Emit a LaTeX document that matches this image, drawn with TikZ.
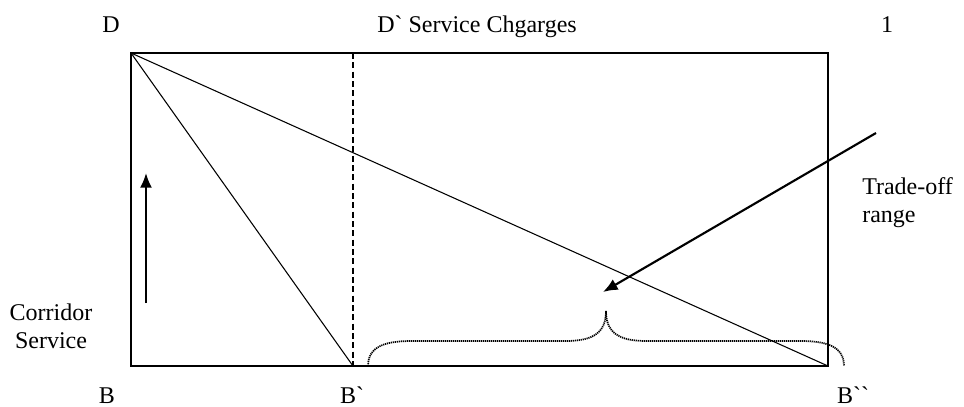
\documentclass[tikz,border=0pt]{standalone}
\usepackage{fontspec}
\setmainfont{Liberation Serif}[Ligatures=TeXOff]
\usetikzlibrary{arrows.meta}
\begin{document}
\begin{tikzpicture}[x=0.75pt,y=-0.75pt,
  lbl/.style={inner sep=0pt,font=\fontsize{18}{21}\selectfont},
  frame/.style={line width=1.1pt},
  thin/.style={line width=0.8pt},
  bigarrow/.style={line width=1.6pt,-{Latex[length=11pt,width=9pt]}},
  dashline/.style={line width=1.3pt,dash pattern=on 4.5pt off 2.5pt},
  dotbrace/.style={line width=1.3pt,dash pattern=on 0.9pt off 0.6pt}]
\useasboundingbox (0,0) rectangle (964,407);
% frame corners
\coordinate (D) at (131,53);
\coordinate (TR) at (828,53);
\coordinate (B) at (131,366);
\coordinate (Bpp) at (828,366);
\coordinate (Bp) at (353,366);
\coordinate (Dp) at (353,53);
\draw[frame] (D) -- (TR) -- (Bpp) -- (B) -- cycle;
\draw[dashline] (Dp) -- (Bp);
\draw[thin] (D) -- (Bp);
\draw[thin] (D) -- (Bpp);
% brace
\coordinate (brL) at (368,366);
\coordinate (brM) at (606,311);
\coordinate (brR) at (844,366);
\draw[dotbrace] (brL) .. controls (368,346) and (386,341) .. (412,341) -- (566,341)
  .. controls (594,341) and (606,332) .. (brM)
  .. controls (606,332) and (618,341) .. (646,341) -- (800,341)
  .. controls (826,341) and (844,346) .. (brR);
% arrows
\coordinate (a1s) at (876,133);
\coordinate (a1e) at (603,292);
\draw[bigarrow] (a1s) -- (a1e);
\coordinate (a2s) at (146,303);
\coordinate (a2e) at (146,173);
\draw[bigarrow] (a2s) -- (a2e);
% labels
\node[lbl,anchor=base] (lD) at (111,32) {D};
\node[lbl,anchor=base] (lDp) at (477,32) {D` Service Chgarges};
\node[lbl,anchor=base] (l1) at (887,32) {1};
\node[lbl,anchor=base] (lB) at (107,403) {B};
\node[lbl,anchor=base] (lBp) at (352,403) {B`};
\node[lbl,anchor=base] (lBpp) at (853,403) {B``};
\node[lbl,align=center] (lcs) at (51,326) {Corridor\\Service};
\node[lbl,align=left,anchor=west] (lto) at (862,203) {Trade-off\\range};
\end{tikzpicture}
\end{document}
